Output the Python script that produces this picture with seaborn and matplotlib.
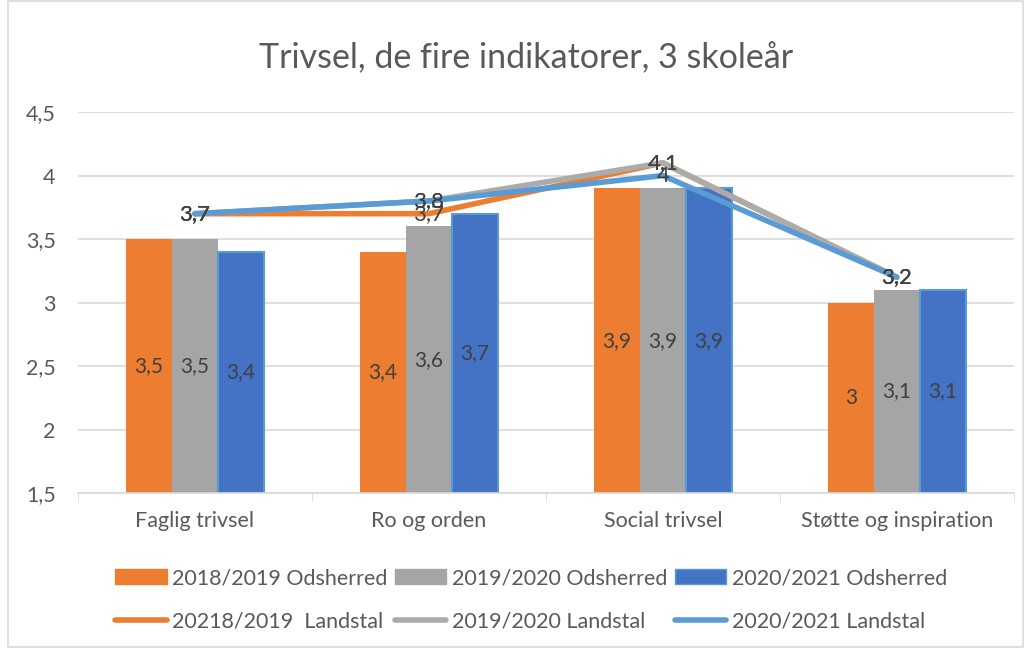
import pandas as pd
import numpy as np
import matplotlib.pyplot as plt
import seaborn as sns
from matplotlib.patches import Patch, Rectangle
from matplotlib.lines import Line2D
from matplotlib.ticker import FuncFormatter

# data
kategorier = ['Faglig trivsel', 'Ro og orden', 'Social trivsel', 'Støtte og inspiration']
bar_serier = ['2018/2019 Odsherred', '2019/2020 Odsherred', '2020/2021 Odsherred']
odsherred_1819 = [3.5, 3.4, 3.9, 3.0]
odsherred_1920 = [3.5, 3.6, 3.9, 3.1]
odsherred_2021 = [3.4, 3.7, 3.9, 3.1]
linje_serier = ['20218/2019  Landstal', '2019/2020 Landstal', '2020/2021 Landstal']
landstal_1819 = [3.7, 3.7, 4.1, 3.2]
landstal_1920 = [3.7, 3.8, 4.1, 3.2]
landstal_2021 = [3.7, 3.8, 4.0, 3.2]

bar_farver = ['#ED7D31', '#A5A5A5', '#4472C4']
linje_farver = ['#ED7D31', '#ABABAB', '#5B9BD5']
tekst = '#595959'

plt.rcParams['font.family'] = ['Lato', 'DejaVu Sans']

df_bar = pd.DataFrame({
    'kategori': kategorier * 3,
    'serie': sum([[s] * 4 for s in bar_serier], []),
    'værdi': odsherred_1819 + odsherred_1920 + odsherred_2021,
})
df_linje = pd.DataFrame({
    'pos': list(range(4)) * 3,
    'serie': sum([[s] * 4 for s in linje_serier], []),
    'værdi': landstal_1819 + landstal_1920 + landstal_2021,
})

fig = plt.figure(figsize=(10.25, 6.48), dpi=100)
ax = fig.add_axes([0.076, 0.239, 0.913, 0.588])

sns.barplot(data=df_bar, x='kategori', y='værdi', hue='serie', palette=bar_farver,
            saturation=1, width=0.59, gap=0, ax=ax, legend=False, zorder=2)

# bar labels in the middle of the visible part
for i, cont in enumerate(ax.containers):
    for p in cont.patches:
        if i == 2:
            p.set_edgecolor('#5B9BD5')
            p.set_linewidth(1.5)
        else:
            p.set_linewidth(0)
        h = p.get_height()
        ax.text(p.get_x() + p.get_width() / 2, (1.5 + h) / 2, ('%g' % h).replace('.', ','),
                ha='center', va='center', fontsize=15, color='#404040', zorder=5)

sns.lineplot(data=df_linje, x='pos', y='værdi', hue='serie', palette=linje_farver,
             linewidth=4, ax=ax, legend=False, zorder=3)
for ln in ax.lines:
    ln.set_solid_capstyle('round')

for s in linje_serier:
    sub = df_linje[df_linje['serie'] == s]
    for x, v in zip(sub['pos'], sub['værdi']):
        ax.text(x, v, ('%g' % v).replace('.', ','), ha='center', va='center',
                fontsize=16, color='#404040', zorder=6)

ax.set_ylim(1.5, 4.5)
ax.set_xlim(-0.5, 3.5)
ax.set_yticks(np.arange(1.5, 4.51, 0.5))
ax.yaxis.set_major_formatter(FuncFormatter(lambda v, p: ('%g' % v).replace('.', ',')))
ax.grid(axis='y', color='#D9D9D9', linewidth=1.2, zorder=0)
ax.set_axisbelow(True)
for sp in ['top', 'right', 'left']:
    ax.spines[sp].set_visible(False)
ax.spines['bottom'].set_color('#D9D9D9')
ax.spines['bottom'].set_linewidth(1.2)
ax.tick_params(axis='y', length=0, labelsize=15.5, colors=tekst, pad=16)
ax.set_xticks([-0.5, 0.5, 1.5, 2.5, 3.5], minor=True)
ax.tick_params(axis='x', which='minor', length=6, color='#D9D9D9')
ax.tick_params(axis='x', which='major', length=0, labelsize=15.5, colors=tekst, pad=13)
ax.set_xlabel('')
ax.set_ylabel('')

fig.text(0.513, 0.91, 'Trivsel, de fire indikatorer, 3 skoleår', ha='center', va='center',
         fontsize=24.5, color=tekst)

handles = []
labels = []
for i in range(3):
    handles.append(Patch(facecolor=bar_farver[i], edgecolor='#5B9BD5' if i == 2 else bar_farver[i]))
    labels.append(bar_serier[i])
    handles.append(Line2D([0], [0], color=linje_farver[i], linewidth=4, solid_capstyle='round'))
    labels.append(linje_serier[i])
fig.legend(handles, labels, ncol=3, loc='center', bbox_to_anchor=(0.518, 0.074), frameon=False,
           fontsize=15.5, labelcolor=tekst, handlelength=2.4, handleheight=0.7,
           handletextpad=0.25, columnspacing=0.35, labelspacing=1.1)

fig.patches.append(Rectangle((0.008, 0.002), 0.99, 0.996, transform=fig.transFigure,
                             fill=False, edgecolor='#D9D9D9', linewidth=1.2))

fig.savefig('out.png', dpi=100)
